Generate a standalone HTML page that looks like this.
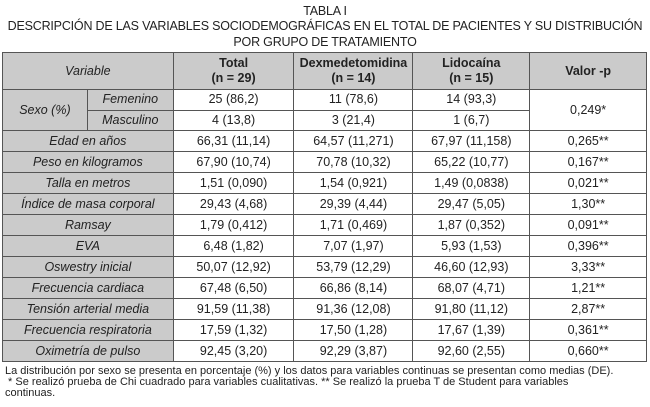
<!DOCTYPE html>
<html><head><meta charset="utf-8"><style>
body{margin:0;width:650px;height:407px;background:#fff;font-family:"Liberation Sans",sans-serif;color:#222;overflow:hidden}
.t{position:absolute;left:0;width:650px;text-align:center;font-size:12.5px;line-height:15px;letter-spacing:-0.2px}
table{position:absolute;left:2px;top:52px;width:645px;border-collapse:collapse;font-size:12.5px}
td{border:1.5px solid #555;text-align:center;padding:0;line-height:15px;height:20px}
tr.s td{height:19.5px}
tr.hd td{height:36px}
.g{background:#cbcbcb;font-style:italic}
.h{background:#cbcbcb;font-weight:bold;font-size:12.5px}
.f{position:absolute;left:5px;top:366px;font-size:11px;line-height:11px;width:640px}
</style></head><body>
<div class="t" style="top:4px">TABLA I</div>
<div class="t" style="top:19px">DESCRIPCIÓN DE LAS VARIABLES SOCIODEMOGRÁFICAS EN EL TOTAL DE PACIENTES Y SU DISTRIBUCIÓN</div>
<div class="t" style="top:35px">POR GRUPO DE TRATAMIENTO</div>
<table>
<colgroup><col style="width:85px"><col style="width:86px"><col style="width:121px"><col style="width:119px"><col style="width:117px"><col style="width:117px"></colgroup>
<tr class="hd"><td class="g" colspan="2">Variable</td><td class="h">Total<br>(n = 29)</td><td class="h">Dexmedetomidina<br>(n = 14)</td><td class="h">Lidocaína<br>(n = 15)</td><td class="h">Valor -p</td></tr>
<tr class="s"><td class="g" rowspan="2">Sexo (%)</td><td class="g">Femenino</td><td>25 (86,2)</td><td>11 (78,6)</td><td>14 (93,3)</td><td rowspan="2">0,249*</td></tr>
<tr class="s"><td class="g">Masculino</td><td>4 (13,8)</td><td>3 (21,4)</td><td>1 (6,7)</td></tr>
<tr><td class="g" colspan="2">Edad en años</td><td>66,31 (11,14)</td><td>64,57 (11,271)</td><td>67,97 (11,158)</td><td>0,265**</td></tr>
<tr><td class="g" colspan="2">Peso en kilogramos</td><td>67,90 (10,74)</td><td>70,78 (10,32)</td><td>65,22 (10,77)</td><td>0,167**</td></tr>
<tr><td class="g" colspan="2">Talla en metros</td><td>1,51 (0,090)</td><td>1,54 (0,921)</td><td>1,49 (0,0838)</td><td>0,021**</td></tr>
<tr><td class="g" colspan="2">Índice de masa corporal</td><td>29,43 (4,68)</td><td>29,39 (4,44)</td><td>29,47 (5,05)</td><td>1,30**</td></tr>
<tr><td class="g" colspan="2">Ramsay</td><td>1,79 (0,412)</td><td>1,71 (0,469)</td><td>1,87 (0,352)</td><td>0,091**</td></tr>
<tr><td class="g" colspan="2">EVA</td><td>6,48 (1,82)</td><td>7,07 (1,97)</td><td>5,93 (1,53)</td><td>0,396**</td></tr>
<tr><td class="g" colspan="2">Oswestry inicial</td><td>50,07 (12,92)</td><td>53,79 (12,29)</td><td>46,60 (12,93)</td><td>3,33**</td></tr>
<tr><td class="g" colspan="2">Frecuencia cardiaca</td><td>67,48 (6,50)</td><td>66,86 (8,14)</td><td>68,07 (4,71)</td><td>1,21**</td></tr>
<tr><td class="g" colspan="2">Tensión arterial media</td><td>91,59 (11,38)</td><td>91,36 (12,08)</td><td>91,80 (11,12)</td><td>2,87**</td></tr>
<tr><td class="g" colspan="2">Frecuencia respiratoria</td><td>17,59 (1,32)</td><td>17,50 (1,28)</td><td>17,67 (1,39)</td><td>0,361**</td></tr>
<tr><td class="g" colspan="2">Oximetría de pulso</td><td>92,45 (3,20)</td><td>92,29 (3,87)</td><td>92,60 (2,55)</td><td>0,660**</td></tr>
</table>
<div class="f">La distribución por sexo se presenta en porcentaje (%) y los datos para variables continuas se presentan como medias (DE).<br>&nbsp;* Se realizó prueba de Chi cuadrado para variables cualitativas. ** Se realizó la prueba T de Student para variables<br>continuas.</div>
</body></html>
